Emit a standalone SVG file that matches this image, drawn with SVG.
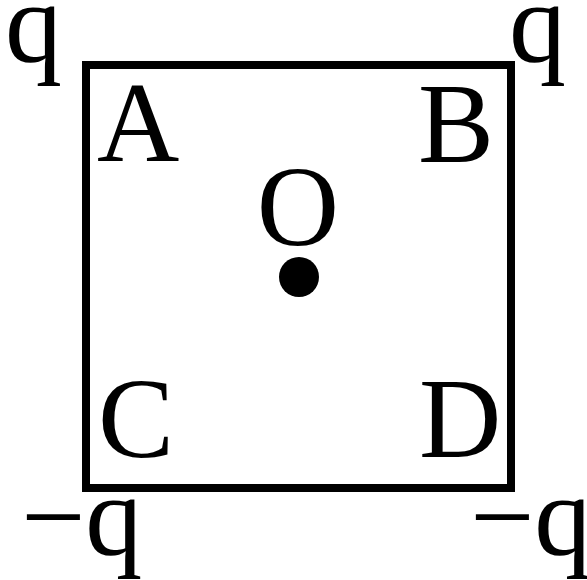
<svg xmlns="http://www.w3.org/2000/svg" width="587" height="580" viewBox="0 0 587 580">
<style>
.t{font-family:"Liberation Serif","Times New Roman",serif;font-size:114px;fill:#000}
</style>
<rect width="587" height="580" fill="#fff"/>
<g id="square"><rect x="86" y="65" width="425" height="423" fill="none" stroke="#000" stroke-width="8"/></g>
<g id="connectors"></g>
<g id="charge-A"><text class="t" x="5" y="62">q</text></g>
<g id="charge-B"><text class="t" x="509" y="62">q</text></g>
<g id="charge-C"><text class="t" x="21" y="555">−q</text></g>
<g id="charge-D"><text class="t" x="470" y="555">−q</text></g>
<g id="label-A"><text class="t" x="97" y="161">A</text></g>
<g id="label-B"><text class="t" x="418" y="162">B</text></g>
<g id="label-C"><text class="t" x="98" y="457">C</text></g>
<g id="label-D"><text class="t" x="419" y="457">D</text></g>
<g id="center-O"><text class="t" x="298" y="245" text-anchor="middle">O</text><circle cx="299" cy="277" r="20" fill="#000"/></g>
</svg>
